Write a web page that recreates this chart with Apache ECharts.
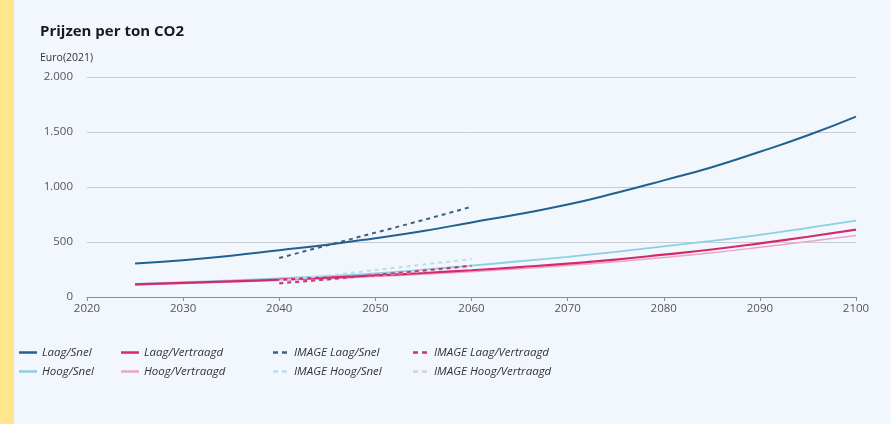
<!DOCTYPE html>
<html>
<head>
<meta charset="utf-8">
<script src="https://cdn.jsdelivr.net/npm/echarts@6/dist/echarts.min.js"></script>
<style>
html,body{margin:0;padding:0;background:#F2F7FD;}
#chart{width:891px;height:424px;}
</style>
</head>
<body>
<div id="chart"></div>
<script>
var years = [2025,2030,2035,2040,2045,2050,2055,2060,2065,2070,2075,2080,2085,2090,2095,2100];
var laagSnel = [305,335,375,425,475,535,600,678,755,840,945,1060,1180,1320,1470,1640];
var hoogSnel = [120,135,150,170,190,215,248,285,325,365,410,460,510,565,628,695];
var laagVertraagd = [115,128,142,158,176,196,218,243,272,303,340,385,432,488,548,612];
var hoogVertraagd = [110,122,136,150,167,186,207,230,256,286,320,358,402,452,505,560];

var imageYears = [2040,2045,2050,2055,2060];
var imageLaagSnel = [355,470,585,700,820];
var imageLaagVertraagd = [125,160,200,240,285];
var imageHoogSnel = [150,195,245,295,345];
var imageHoogVertraagd = [120,155,195,235,275];

var yTicks = [0,500,1000,1500,2000];

function pairs(xs, ys){ return xs.map(function(x,i){ return [x, ys[i]]; }); }
function fmt(v){ return String(v).replace(/\B(?=(\d{3})+(?!\d))/g, '.'); }

var chart = echarts.init(document.getElementById('chart'));
function solid(name, color, w, xs, ys){
  return {name:name, type:'line', data:pairs(xs,ys), smooth:true, symbol:'none', showSymbol:false,
    lineStyle:{color:color, width:w}, itemStyle:{color:color}};
}
function dashed(name, color, xs, ys){
  return {name:name, type:'line', data:pairs(xs,ys), smooth:false, symbol:'none', showSymbol:false,
    lineStyle:{color:color, width:2, type:[4,4]}, itemStyle:{color:color}};
}
var solidIcon = 'path://M0,0h18v2.5h-18z';
var dashIcon = 'path://M2,0h5v2.5h-5z M11,0h5v2.5h-5z M0,0h0.01v0.01h-0.01z M18,0h0.01v0.01h-0.01z';
function legendCol(left, names, icon){
  return {orient:'vertical', left:left, top:341, itemWidth:18, itemHeight:3, itemGap:6,
    icon:icon, itemStyle:{borderWidth:0}, lineStyle:{width:0},
    textStyle:{fontSize:11.5, fontStyle:'italic', color:'#333', fontFamily:'Open Sans', lineHeight:13}, data:names};
}

var option = {
  animation:false,
  backgroundColor:'#F2F7FD',
  textStyle:{fontFamily:'Open Sans'},
  graphic:[
    {type:'rect', left:0, top:0, shape:{width:14, height:424}, style:{fill:'#FFE68C'}}
  ],
  title:[
    {text:'Prijzen per ton CO2', left:35, top:19, textStyle:{fontSize:15, fontWeight:'bold', color:'#1a1a1a', fontFamily:'Open Sans'}},
    {text:'Euro(2021)', left:35, top:48, textStyle:{fontSize:10.5, fontWeight:'normal', color:'#333', fontFamily:'Open Sans'}}
  ],
  grid:{left:87, right:35, top:77, bottom:127},
  xAxis:{type:'value', min:2020, max:2100, interval:10,
    axisLine:{lineStyle:{color:'#8a8d94', width:1}},
    axisTick:{show:true, length:4, lineStyle:{color:'#8a8d94'}},
    axisLabel:{color:'#555', fontSize:11.5, margin:6, formatter:function(v){return String(v);}},
    splitLine:{show:false}},
  yAxis:{type:'value', min:yTicks[0], max:yTicks[yTicks.length-1], interval:500,
    axisLine:{show:false}, axisTick:{show:false},
    axisLabel:{color:'#555', fontSize:11.5, margin:14, formatter:function(v){return fmt(v);}},
    splitLine:{lineStyle:{color:'#c9ccd4', width:1}}},
  legend:[
    legendCol(14, ['Laag/Snel','Hoog/Snel'], solidIcon),
    legendCol(116, ['Laag/Vertraagd','Hoog/Vertraagd'], solidIcon),
    legendCol(266, ['IMAGE Laag/Snel','IMAGE Hoog/Snel'], dashIcon),
    legendCol(406, ['IMAGE Laag/Vertraagd','IMAGE Hoog/Vertraagd'], dashIcon)
  ],
  series:[
    solid('Hoog/Vertraagd', '#eba6c6', 1.5, years, hoogVertraagd),
    solid('Hoog/Snel', '#8dcfe6', 1.8, years, hoogSnel),
    solid('Laag/Vertraagd', '#d6286f', 2.2, years, laagVertraagd),
    solid('Laag/Snel', '#22608f', 2, years, laagSnel),
    dashed('IMAGE Hoog/Vertraagd', '#d9cfd8', imageYears, imageHoogVertraagd),
    dashed('IMAGE Hoog/Snel', '#bcdcec', imageYears, imageHoogSnel),
    dashed('IMAGE Laag/Vertraagd', '#c9336e', imageYears, imageLaagVertraagd),
    dashed('IMAGE Laag/Snel', '#3d6079', imageYears, imageLaagSnel)
  ]
};
chart.setOption(option);
</script>
</body>
</html>
